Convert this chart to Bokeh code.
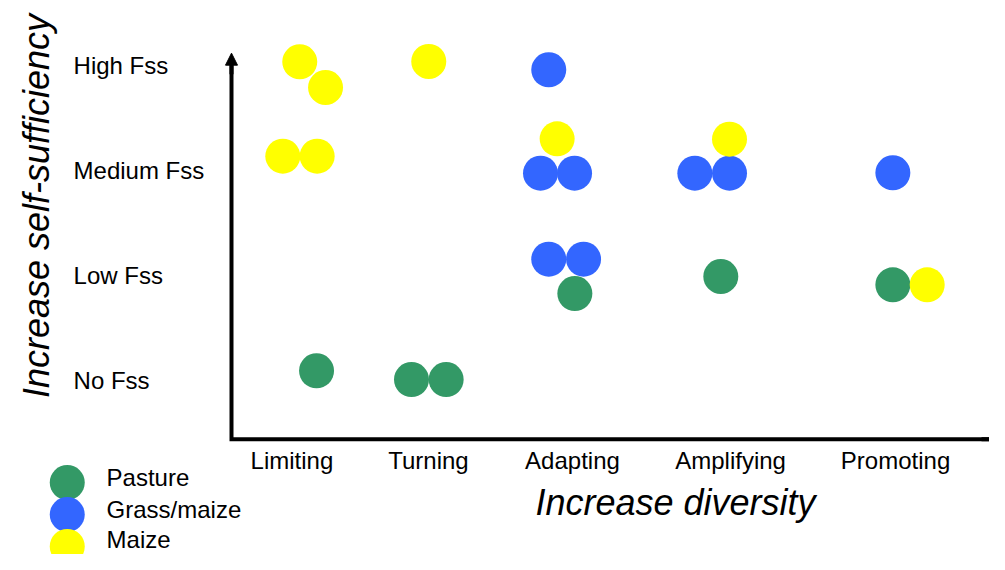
from bokeh.plotting import figure
from bokeh.models import Range1d, Arrow, NormalHead
from bokeh.core.properties import value
from bokeh.embed import file_html
from bokeh.resources import INLINE

# ---- data (x: diversity score, y: food self-sufficiency score) ----
categories = ["Limiting", "Turning", "Adapting", "Amplifying", "Promoting"]
category_x = [0.403, 1.313, 2.273, 3.327, 4.427]
levels = ["No Fss", "Low Fss", "Medium Fss", "High Fss"]
level_y = [0, 1, 2, 3]

series = ["Pasture", "Grass/maize", "Maize"]
colors = ["#339966", "#3366FF", "#FFFF00"]

pasture_x = [0.567, 1.200, 1.431, 2.289, 3.262, 4.409]
pasture_y = [0.102, 0.019, 0.019, 0.838, 1.000, 0.921]
grass_x = [2.115, 2.060, 2.287, 3.089, 3.320, 4.409, 2.115, 2.347]
grass_y = [2.969, 1.984, 1.984, 1.984, 1.984, 1.988, 1.165, 1.165]
maize_x = [0.455, 0.627, 1.315, 0.342, 0.571, 2.171, 3.320, 4.638]
maize_y = [3.045, 2.800, 3.048, 2.146, 2.146, 2.311, 2.308, 0.921]

# ---- layout ----
W, H = 989, 554
SX, SY = 150.0, 105.0          # pixels per unit
OX, OY = 231.0, 381.0          # pixel of (0,0) inside the canvas

p = figure(width=W, height=H, output_backend="svg", toolbar_location=None,
           x_range=Range1d(-OX / SX, (W - OX) / SX),
           y_range=Range1d((OY - H) / SY, OY / SY),
           min_border=0, outline_line_color=None)
p.axis.visible = False
p.grid.visible = False
p.background_fill_color = "white"
p.border_fill_color = "white"

FONT = value("Liberation Sans")

# axes (L shape + arrow heads)
x0, y0 = 0.0, -0.55
ytip, xtip = 3.127, 5.2
p.line(x=[x0, x0, xtip], y=[ytip - 0.1, y0, y0], line_color="black",
       line_width=4, line_join="miter")
p.add_layout(Arrow(end=NormalHead(size=12, fill_color="black", line_color="black"),
                   x_start=x0, y_start=ytip - 0.2, x_end=x0, y_end=ytip,
                   line_color="black", line_width=4))
p.add_layout(Arrow(end=NormalHead(size=12, fill_color="black", line_color="black"),
                   x_start=xtip - 0.2, y_start=y0, x_end=xtip, y_end=y0,
                   line_color="black", line_width=4))

# points
for xs, ys, c in [(pasture_x, pasture_y, colors[0]),
                  (grass_x, grass_y, colors[1]),
                  (maize_x, maize_y, colors[2])]:
    p.scatter(x=xs, y=ys, size=35, fill_color=c, line_color=None)

# category labels
p.text(x=category_x, y=[y0] * len(categories), text=categories,
       text_font=FONT, text_font_size="24px", text_align="center",
       text_baseline="middle", y_offset=21, text_color="black")

# level labels
p.text(x=[-1.053] * len(levels), y=level_y, text=levels,
       text_font=FONT, text_font_size="24px", text_align="left",
       text_baseline="middle", y_offset=-1, text_color="black")

# axis titles
p.text(x=[2.96], y=[-1.152], text=["Increase diversity"], text_font=FONT,
       text_font_size="36px", text_font_style="italic", text_align="center",
       text_baseline="middle", text_color="black")
p.text(x=[-1.3], y=[1.671], text=["Increase self-sufficiency"], text_font=FONT,
       text_font_size="36px", text_font_style="italic", text_align="center",
       text_baseline="middle", angle=1.5708, text_color="black")

# legend
leg_y = [-0.962, -1.267, -1.571]
p.scatter(x=[-1.095] * 3, y=leg_y, size=35, fill_color=colors, line_color=None)
p.text(x=[-0.833] * 3, y=leg_y, text=series, text_font=FONT,
       text_font_size="24px", text_align="left", text_baseline="middle",
       y_offset=[-5, -5, -7], text_color="black")

open("out.html", "w").write(file_html(p, INLINE))
